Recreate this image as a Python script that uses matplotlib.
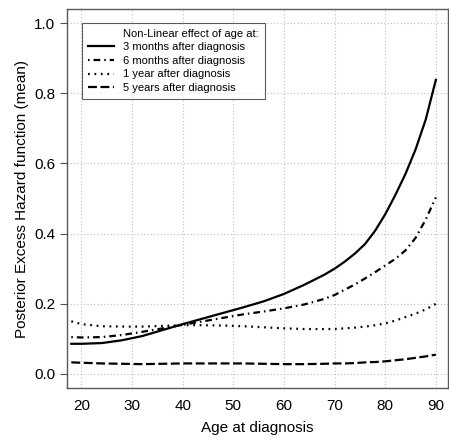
import matplotlib
matplotlib.use("Agg")
import numpy as np
from matplotlib import pyplot as plt

plt.rcParams["font.family"] = ["Liberation Sans", "DejaVu Sans"]

# curves (age at diagnosis vs posterior mean)
age = [18, 20, 24, 28, 32, 36, 40, 44, 48, 52, 56, 60, 64, 68, 70,
       72, 74, 76, 78, 80, 82, 84, 86, 88, 90]
months_3 = [0.086, 0.086, 0.088, 0.096, 0.108, 0.125, 0.142, 0.158, 0.174, 0.190, 0.207,
            0.228, 0.254, 0.283, 0.300, 0.320, 0.343, 0.370, 0.408, 0.455, 0.510, 0.570,
            0.640, 0.725, 0.838]
months_6 = [0.105, 0.104, 0.105, 0.111, 0.120, 0.130, 0.140, 0.150, 0.160, 0.170, 0.178,
            0.187, 0.198, 0.214, 0.225, 0.240, 0.255, 0.272, 0.290, 0.309, 0.328, 0.352,
            0.388, 0.440, 0.503]
year_1 = [0.150, 0.142, 0.136, 0.135, 0.135, 0.137, 0.139, 0.139, 0.138, 0.136, 0.133,
          0.130, 0.128, 0.128, 0.128, 0.130, 0.132, 0.135, 0.139, 0.144, 0.152, 0.162,
          0.172, 0.184, 0.200]
years_5 = [0.033, 0.032, 0.030, 0.029, 0.028, 0.029, 0.030, 0.030, 0.030, 0.030, 0.029,
           0.028, 0.028, 0.029, 0.030, 0.030, 0.031, 0.033, 0.034, 0.036, 0.039, 0.042,
           0.046, 0.050, 0.055]

labels = ["3 months after diagnosis", "6 months after diagnosis",
          "1 year after diagnosis", "5 years after diagnosis"]

fig = plt.figure(figsize=(4.49, 4.46), dpi=100)
ax = fig.add_axes([67 / 449, 1 - 388 / 446, 381 / 449, 379 / 446])

ax.grid(True, color="0.75", ls=(0, (1, 2)), lw=0.8)
ax.set_axisbelow(True)

lw = 1.6
l1, = ax.plot(age, months_3, color="k", lw=lw, ls="-")
l2, = ax.plot(age, months_6, color="k", lw=lw, ls=(0, (0.7, 1.8, 3.0, 1.8)))
l3, = ax.plot(age, year_1, color="k", lw=lw, ls=(0, (0.8, 2.1)))
l4, = ax.plot(age, years_5, color="k", lw=lw, ls=(0, (4.0, 1.6)))

ax.set_xlim(17.15, 92.4)
ax.set_ylim(-0.04, 1.04)
ax.set_xticks([20, 30, 40, 50, 60, 70, 80, 90])
ax.set_yticks([0.0, 0.2, 0.4, 0.6, 0.8, 1.0])
ax.set_yticklabels(["0.0", "0.2", "0.4", "0.6", "0.8", "1.0"])
ax.tick_params(axis="x", length=0, labelsize=11, pad=8)
ax.tick_params(axis="y", length=5, labelsize=11, color="0.3")
for s in ax.spines.values():
    s.set_color("0.35")
    s.set_linewidth(1.0)

ax.set_xlabel("Age at diagnosis", fontsize=11, labelpad=6)
ax.set_ylabel("Posterior Excess Hazard function (mean)", fontsize=11, labelpad=4)

blank, = ax.plot([], [], color="none")
leg = ax.legend([blank, l1, l2, l3, l4], ["Non-Linear effect of age at:"] + labels,
                loc="upper left", bbox_to_anchor=(14.7 / 381, 1 - 13.7 / 379),
                fontsize=8, frameon=True, fancybox=False, handlelength=2.4,
                handletextpad=0.8, labelspacing=0.32, borderpad=0.55, borderaxespad=0)
leg.get_frame().set_edgecolor("0.2")
leg.get_frame().set_linewidth(0.8)

fig.savefig("out.png", dpi=100)
